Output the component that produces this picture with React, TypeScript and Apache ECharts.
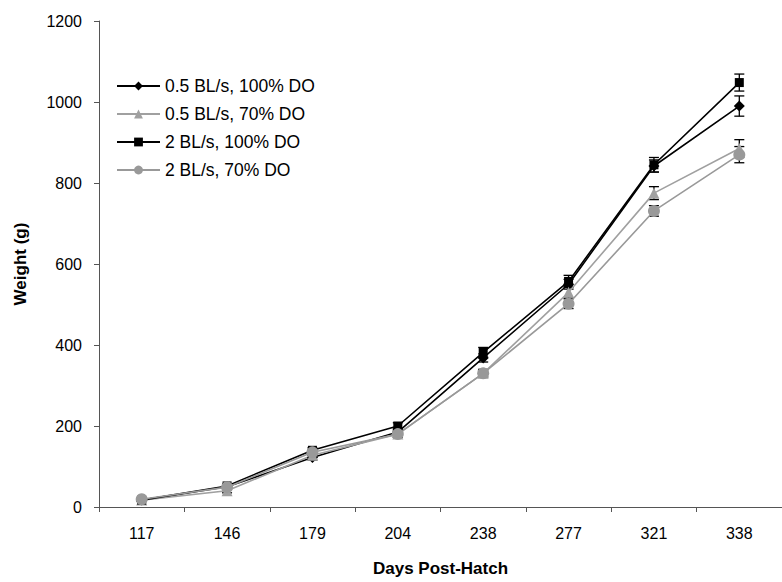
import React, { useEffect, useRef } from "react";
import * as echarts from "echarts";

const days = ["117", "146", "179", "204", "238", "277", "321", "338"];
const yTicks = [0, 200, 400, 600, 800, 1000, 1200];

const names = ["0.5 BL/s, 100% DO", "0.5 BL/s, 70% DO", "2 BL/s, 100% DO", "2 BL/s, 70% DO"];

const slow100 = [17, 50, 122, 185, 368, 550, 842, 990];
const slow70 = [17, 40, 128, 180, 330, 530, 775, 885];
const fast100 = [17, 52, 140, 200, 382, 557, 845, 1048];
const fast70 = [19, 49, 135, 180, 330, 502, 731, 870];

const slow100Err = [3, 5, 6, 8, 10, 12, 15, 25];
const slow70Err = [3, 5, 6, 8, 10, 14, 16, 22];
const fast100Err = [3, 5, 6, 8, 12, 15, 18, 21];
const fast70Err = [3, 5, 6, 8, 8, 12, 13, 20];

const FONT = "Liberation Sans, Arial, sans-serif";

export default function App() {
  const ref = useRef<HTMLDivElement>(null);
  useEffect(() => {
    if (!ref.current) return;
    const chart = echarts.init(ref.current, null, { renderer: "svg" });

    const seriesDefs = [
      { name: names[0], data: slow100, err: slow100Err, color: "#000000", symbol: "diamond", size: 11 },
      { name: names[1], data: slow70, err: slow70Err, color: "#a0a0a0", symbol: "triangle", size: 11 },
      { name: names[2], data: fast100, err: fast100Err, color: "#000000", symbol: "rect", size: 9 },
      { name: names[3], data: fast70, err: fast70Err, color: "#999999", symbol: "circle", size: 12 },
    ];

    const series: any[] = [];
    seriesDefs.forEach((s, si) => {
      series.push({
        type: "custom",
        name: "err" + si,
        renderItem: (params: any, api: any) => {
          const idx = api.value(0);
          const lo = api.coord([idx, api.value(1)]);
          const hi = api.coord([idx, api.value(2)]);
          const cap = 5;
          const style = { stroke: "#000", lineWidth: 1.3 };
          return {
            type: "group",
            children: [
              { type: "line", shape: { x1: lo[0], y1: lo[1], x2: hi[0], y2: hi[1] }, style },
              { type: "line", shape: { x1: lo[0] - cap, y1: lo[1], x2: lo[0] + cap, y2: lo[1] }, style },
              { type: "line", shape: { x1: hi[0] - cap, y1: hi[1], x2: hi[0] + cap, y2: hi[1] }, style },
            ],
          };
        },
        data: s.data.map((v, i) => [i, v - s.err[i], v + s.err[i]]),
        encode: { x: 0, y: [1, 2] },
        silent: true,
      });
      series.push({
        type: "line",
        name: s.name,
        data: s.data,
        symbol: s.symbol,
        symbolSize: s.size,
        showSymbol: true,
        itemStyle: { color: s.color },
        lineStyle: { color: s.color, width: 1.6 },
      });
    });

    chart.setOption({
      animation: false,
      backgroundColor: "#ffffff",
      grid: { left: 99, top: 21, bottom: 71, right: -9, containLabel: false },
      legend: {
        data: names,
        orient: "vertical",
        left: 111,
        top: 72,
        itemWidth: 43,
        itemHeight: 11,
        itemGap: 10,
        textStyle: { fontFamily: FONT, fontSize: 17.5, color: "#000" },
      },
      xAxis: {
        type: "category",
        data: days,
        boundaryGap: true,
        name: "Days Post-Hatch",
        nameLocation: "middle",
        nameGap: 53,
        nameTextStyle: { fontFamily: FONT, fontSize: 17, fontWeight: "bold", color: "#000" },
        axisLine: { show: true, lineStyle: { color: "#555", width: 1 } },
        axisTick: { show: true, length: 5, inside: false, alignWithLabel: false, interval: 0, lineStyle: { color: "#555" } },
        axisLabel: { fontFamily: FONT, fontSize: 16, color: "#000", margin: 18, interval: 0 },
        splitLine: { show: false },
      },
      yAxis: {
        type: "value",
        min: yTicks[0],
        max: yTicks[yTicks.length - 1],
        interval: 200,
        name: "Weight (g)",
        nameLocation: "middle",
        nameRotate: 90,
        nameGap: 70,
        nameTextStyle: { fontFamily: FONT, fontSize: 17, fontWeight: "bold", color: "#000" },
        axisLine: { show: true, lineStyle: { color: "#555", width: 1 } },
        axisTick: { show: true, length: 5, inside: false, lineStyle: { color: "#555" } },
        axisLabel: { fontFamily: FONT, fontSize: 16, color: "#000", margin: 17, formatter: (v: number) => String(v) },
        splitLine: { show: false },
      },
      series,
    });
    return () => chart.dispose();
  }, []);
  return (
    <div
      ref={ref}
      style={{ position: "absolute", left: 0, top: 0, width: 782, height: 582 }}
    />
  );
}
